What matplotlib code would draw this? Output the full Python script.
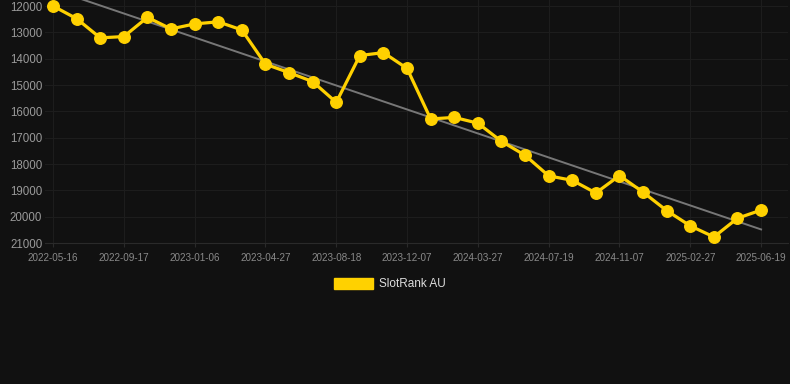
#!/usr/bin/env python3
"""SlotRank AU rank history with linear trend line."""

import matplotlib
matplotlib.use("Agg")
import matplotlib.pyplot as plt
import matplotlib.patches as mpatches
import numpy as np

# Tick labels shown every third point
tick_labels = ['2022-05-16', '2022-09-17', '2023-01-06', '2023-04-27', '2023-08-18',
               '2023-12-07', '2024-03-27', '2024-07-19', '2024-11-07', '2025-02-27',
               '2025-06-19']

# Rank values (lower on screen = worse rank)
ranks = [12000, 12480, 13210, 13160, 12430, 12870, 12680, 12600, 12910, 14210,
         14530, 14870, 15660, 13880, 13770, 14370, 16290, 16230, 16450, 17140,
         17670, 18450, 18620, 19100, 18440, 19070, 19770, 20350, 20770, 20060,
         19750]

y_ticks = [12000, 13000, 14000, 15000, 16000, 17000, 18000, 19000, 20000, 21000]

BG = '#111111'
GOLD = '#FFD100'

fig = plt.figure(figsize=(7.9, 3.84), dpi=100, facecolor=BG)
ax = fig.add_axes([45 / 790, 1 - 243 / 384, 743 / 790, 243 / 384])
ax.set_facecolor(BG)
plt.rcParams['font.family'] = ['Liberation Sans', 'DejaVu Sans']

x = np.arange(len(ranks))

# Linear trend
coef = np.polyfit(x, ranks, 1)
ax.plot(x, np.polyval(coef, x), color='#777777', linewidth=1.4, zorder=2)

ax.plot(x, ranks, color=GOLD, linewidth=2.3, marker='o', markersize=8.3,
        zorder=3)

ax.set_xlim(-0.34, 31.14)
ax.set_ylim(21000, 11772)

ax.set_yticks(y_ticks)
ax.set_yticklabels([str(v) for v in y_ticks], fontsize=8.3, color='#9a9a9a',
                   family=['Liberation Sans', 'DejaVu Sans'])
ax.set_xticks(x[::3])
ax.set_xticklabels(tick_labels, fontsize=7.1, color='#8a8a8a',
                   family=['Liberation Sans', 'DejaVu Sans'])
ax.tick_params(axis='y', length=0, pad=2)
ax.tick_params(axis='x', length=3, color='#2a2a2a', pad=4)

ax.grid(True, color='#1d1d1d', linewidth=0.8)
for side in ['top', 'right', 'left']:
    ax.spines[side].set_visible(False)
ax.spines['bottom'].set_color('#2a2a2a')

handle = mpatches.Patch(color=GOLD, label='SlotRank AU')
fig.legend(handles=[handle], loc='center', bbox_to_anchor=(390 / 790, 1 - 284 / 384),
           frameon=False, labelcolor='#dddddd',
           handlelength=3.3, handleheight=1.1, handletextpad=0.5,
           prop={'family': ['Liberation Sans', 'DejaVu Sans'], 'size': 8.5})

fig.savefig('out.png', dpi=100, facecolor=BG)
